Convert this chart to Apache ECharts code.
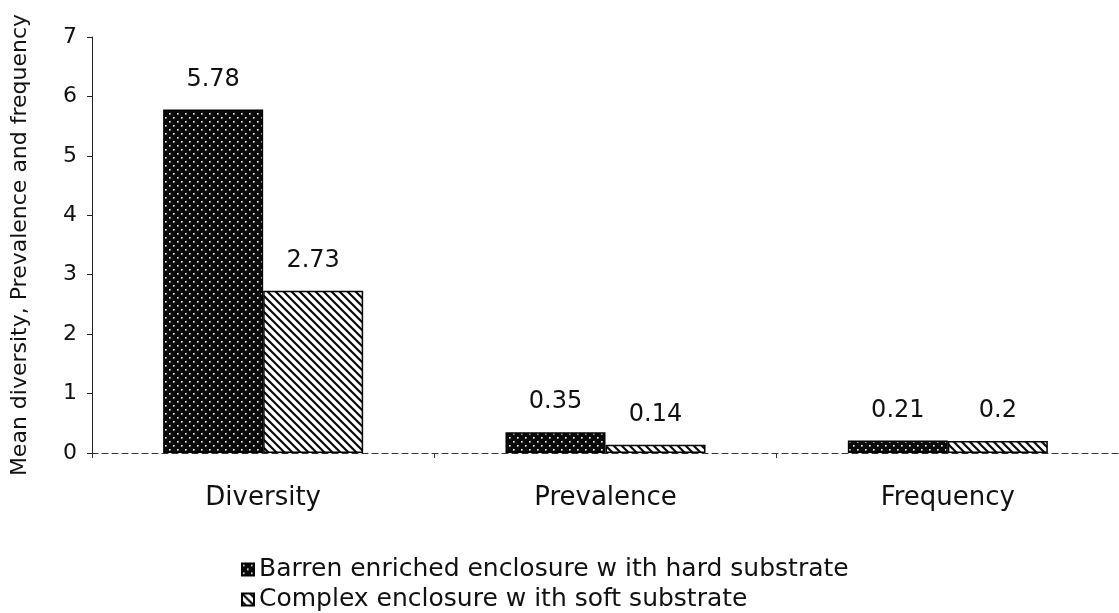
<!DOCTYPE html>
<html>
<head>
<meta charset="utf-8">
<script src="https://cdn.jsdelivr.net/npm/echarts@6/dist/echarts.min.js"></script>
<style>html,body{margin:0;padding:0;background:#fff}#c{width:1119px;height:613px}</style>
</head>
<body>
<div id="c"></div>
<script>
const categories = ['Diversity', 'Prevalence', 'Frequency'];
const barrenValues = [5.78, 0.35, 0.21];
const complexValues = [2.73, 0.14, 0.2];
const seriesNames = ['Barren enriched enclosure w ith hard substrate', 'Complex enclosure w ith soft substrate'];
const yTicks = [0, 1, 2, 3, 4, 5, 6, 7];

function dotPattern() {
  const c = document.createElement('canvas');
  c.width = 8; c.height = 8;
  const g = c.getContext('2d');
  g.fillStyle = '#0a0a0a'; g.fillRect(0, 0, 8, 8);
  g.fillStyle = '#ffffff';
  g.fillRect(1, 1, 1.6, 1.6);
  g.fillRect(5, 5, 1.6, 1.6);
  return c;
}
function hatchPattern() {
  const c = document.createElement('canvas');
  c.width = 8; c.height = 8;
  const g = c.getContext('2d');
  g.fillStyle = '#ffffff'; g.fillRect(0, 0, 8, 8);
  g.strokeStyle = '#0a0a0a'; g.lineWidth = 2.2;
  g.beginPath();
  g.moveTo(-2, -2); g.lineTo(10, 10);
  g.moveTo(-2, 6); g.lineTo(2, 10);
  g.moveTo(6, -2); g.lineTo(10, 2);
  g.stroke();
  return c;
}
const pDots = { image: dotPattern(), repeat: 'repeat' };
const pHatch = { image: hatchPattern(), repeat: 'repeat' };

const FONT = 'DejaVu Sans';
const chart = echarts.init(document.getElementById('c'), null, { renderer: 'canvas' });
const labelStyle = { show: true, position: 'top', distance: 18, fontSize: 24, color: '#111', fontFamily: FONT };
const legendBase = {
  orient: 'horizontal', left: 236, itemWidth: 12, itemHeight: 12, icon: 'rect',
  textStyle: { fontSize: 25, color: '#111', fontFamily: FONT }
};
chart.setOption({
  animation: false,
  textStyle: { fontFamily: FONT },
  grid: { left: 92, top: 37, width: 1032, height: 416, containLabel: false },
  legend: [
    Object.assign({}, legendBase, { top: 552, data: [seriesNames[0]] }),
    Object.assign({}, legendBase, { top: 582, data: [seriesNames[1]] })
  ],
  xAxis: {
    type: 'category', data: categories,
    axisLine: { lineStyle: { color: '#333', width: 1, type: [6, 4] } },
    axisTick: { show: true, length: 5, lineStyle: { color: '#333' } },
    axisLabel: { fontSize: 26, color: '#111', margin: 32, fontFamily: FONT }
  },
  yAxis: {
    type: 'value', min: 0, max: 7, interval: 1,
    name: 'Mean diversity, Prevalence and frequency',
    nameLocation: 'middle', nameRotate: 90, nameGap: 61,
    nameTextStyle: { fontSize: 22, color: '#111', fontFamily: FONT },
    axisLine: { show: true, lineStyle: { color: '#222', width: 1 } },
    axisTick: { show: true, length: 5, lineStyle: { color: '#222' } },
    splitLine: { show: false },
    axisLabel: { fontSize: 22, color: '#111', margin: 15, fontFamily: FONT,
      formatter: v => yTicks.includes(v) ? String(v) : '' }
  },
  series: [
    { name: seriesNames[0], type: 'bar', data: barrenValues, barWidth: 100, barGap: '0%',
      itemStyle: { color: pDots, borderColor: '#000', borderWidth: 1.5 }, label: labelStyle },
    { name: seriesNames[1], type: 'bar', data: complexValues, barWidth: 100,
      itemStyle: { color: pHatch, borderColor: '#000', borderWidth: 1.5 }, label: labelStyle }
  ]
});
</script>
</body>
</html>
